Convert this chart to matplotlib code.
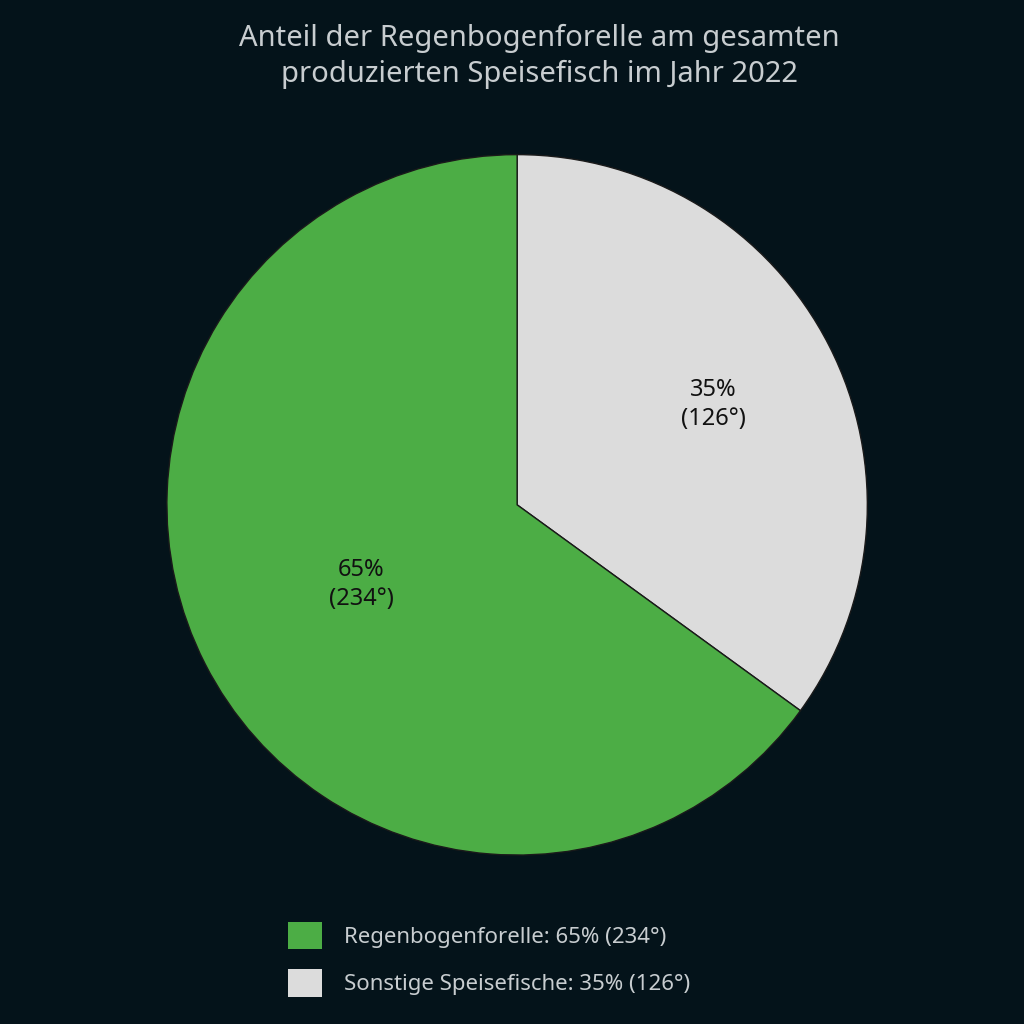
import numpy as np
import matplotlib.pyplot as plt
from matplotlib.patches import Patch

plt.rcParams['font.family'] = ['Noto Sans', 'DejaVu Sans']

labels = ["Sonstige Speisefische", "Regenbogenforelle"]
shares = [35, 65]
degrees = [126, 234]
colors = ["#dcdcdc", "#4cad45"]
label_dist = [0.63, 0.5]

bg = "#04131a"
fig = plt.figure(figsize=(10.24, 10.24), dpi=100, facecolor=bg)
fig.text(0.527, 0.945, "Anteil der Regenbogenforelle am gesamten\nproduzierten Speisefisch im Jahr 2022",
         ha="center", va="center", fontsize=21, color="#c8cdd0", linespacing=1.3)

ax = fig.add_axes([0.163, 0.165, 0.684, 0.684])
ax.set_facecolor(bg)
wedges, _ = ax.pie(shares, colors=colors, startangle=90, counterclock=False,
                   wedgeprops=dict(edgecolor="#1a1a1a", linewidth=1))
for w, s, d, r in zip(wedges, shares, degrees, label_dist):
    ang = np.radians((w.theta1 + w.theta2) / 2)
    ax.text(r * np.cos(ang), r * np.sin(ang), f"{s}%\n({d}°)", ha="center", va="center",
            fontsize=17, color="#111111", linespacing=1.3)
ax.set_xlim(-1, 1)
ax.set_ylim(-1, 1)
ax.set_aspect("equal")

handles = [Patch(facecolor=colors[1]), Patch(facecolor=colors[0])]
texts = [f"{labels[1]}: {shares[1]}% ({degrees[1]}°)", f"{labels[0]}: {shares[0]}% ({degrees[0]}°)"]
fig.legend(handles, texts, loc="center left", bbox_to_anchor=(0.262, 0.063), frameon=False,
           fontsize=16, labelcolor="#c8cdd0", handlelength=1.5, handleheight=1.5,
           labelspacing=0.9, handletextpad=1.0)
fig.savefig("out.png", facecolor=bg)
